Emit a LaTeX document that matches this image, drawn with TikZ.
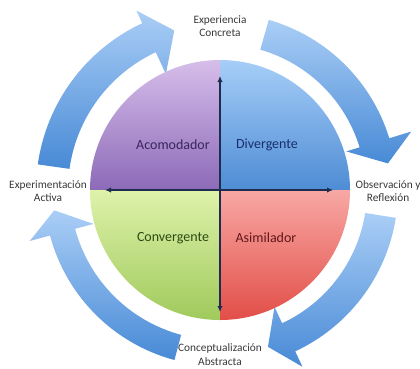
\documentclass[tikz,border=0pt]{standalone}
\usepackage{fontspec}
\setmainfont{Carlito}
\usepackage{xcolor}
\usetikzlibrary{arrows.meta}

\definecolor{ringtop}{RGB}{170,206,246}
\definecolor{ringbot}{RGB}{72,138,214}
\definecolor{acotop}{RGB}{214,190,234}
\definecolor{acobot}{RGB}{140,106,184}
\definecolor{divtop}{RGB}{166,206,248}
\definecolor{divbot}{RGB}{78,140,212}
\definecolor{contop}{RGB}{222,242,170}
\definecolor{conbot}{RGB}{160,202,92}
\definecolor{asitop}{RGB}{248,168,164}
\definecolor{asibot}{RGB}{226,78,72}
\definecolor{axisnavy}{RGB}{30,44,80}

\tikzset{
  ringarrow/.style={top color=ringtop, bottom color=ringbot, draw=none},
  stage/.style={font=\fontsize{8.5}{10}\selectfont, align=center, text=black!78},
  quadlabel/.style={font=\fontsize{10.5}{12}\selectfont},
  axis/.style={draw=axisnavy, line width=1.1pt, {Latex[length=4.5pt,width=4pt]}-{Latex[length=4.5pt,width=4pt]}}
}

\begin{document}
\begin{tikzpicture}[x=0.75pt,y=0.75pt]
  \useasboundingbox (-220,-178) rectangle (200,190);

  % Outer ring arrows (clockwise)
  \shade[ringarrow] (172:184) arc[start angle=172, end angle=115, radius=184]
    -- (115:198) -- (106:166) -- (115:128) -- (115:152)
    arc[start angle=115, end angle=172, radius=152] -- cycle;
  \shade[ringarrow] (74:177) arc[start angle=74, end angle=17, radius=177]
    -- (17:200) -- (9:170) -- (17:132) -- (17:146)
    arc[start angle=17, end angle=74, radius=146] -- cycle;
  \shade[ringarrow] (-9:178) arc[start angle=-9, end angle=-65, radius=178]
    -- (-65:195) -- (-73:164) -- (-65:129) -- (-65:147)
    arc[start angle=-65, end angle=-9, radius=147] -- cycle;
  \shade[ringarrow] (-105:176) arc[start angle=-105, end angle=-165, radius=176]
    -- (-165:197) -- (-173:167) -- (-165:131) -- (-165:150)
    arc[start angle=-165, end angle=-105, radius=150] -- cycle;

  % Quadrants of the circle
  \shade[top color=divtop, bottom color=divbot] (0,0) -- (0:130)
    arc[start angle=0, end angle=90, radius=130] -- cycle;
  \shade[top color=acotop, bottom color=acobot] (0,0) -- (90:130)
    arc[start angle=90, end angle=180, radius=130] -- cycle;
  \shade[top color=contop, bottom color=conbot] (0,0) -- (180:130)
    arc[start angle=180, end angle=270, radius=130] -- cycle;
  \shade[top color=asitop, bottom color=asibot] (0,0) -- (270:130)
    arc[start angle=270, end angle=360, radius=130] -- cycle;

  % Axes
  \coordinate (axL) at (-115,0);
  \coordinate (axR) at (113,0);
  \coordinate (axT) at (0,114);
  \coordinate (axB) at (0,-122);
  \draw[axis] (axL) -- (axR);
  \draw[axis] (axT) -- (axB);

  % Styles
  \node[quadlabel, text={rgb,255:red,58;green,38;blue,92}] (acomodador) at (-47,45) {Acomodador};
  \node[quadlabel, text={rgb,255:red,26;green,46;blue,108}] (divergente) at (47,45) {Divergente};
  \node[quadlabel, text={rgb,255:red,44;green,74;blue,20}] (convergente) at (-47,-48) {Convergente};
  \node[quadlabel, text={rgb,255:red,96;green,24;blue,24}] (asimilador) at (46,-48) {Asimilador};

  % Stages of the cycle
  \node[stage] (experiencia) at (0,164) {Experiencia\\Concreta};
  \node[stage] (observacion) at (168,-1) {Observación y\\Reflexión};
  \node[stage] (conceptual) at (0,-164.5) {Conceptualización\\Abstracta};
  \node[stage] (experimentacion) at (-172,-1) {Experimentación\\Activa};
\end{tikzpicture}
\end{document}
